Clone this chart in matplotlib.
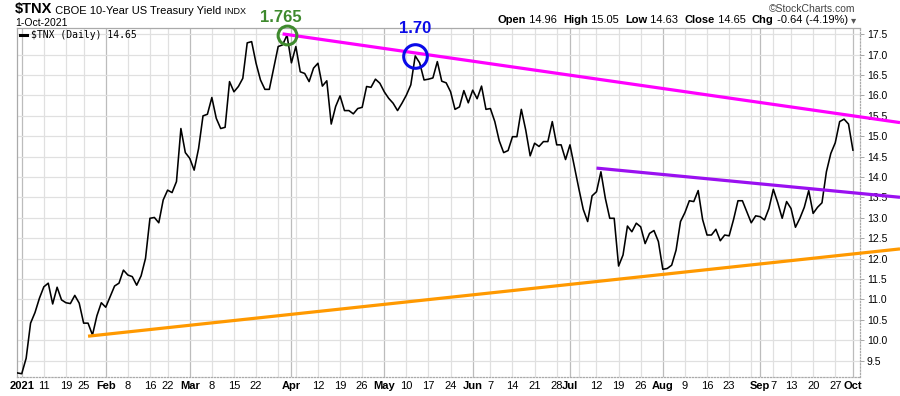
import matplotlib
matplotlib.use('Agg')
import matplotlib.pyplot as plt
import numpy as np
import pandas as pd

plt.rcParams['font.family'] = ['Liberation Sans', 'DejaVu Sans']

# dias de mercado (sin feriados) + ultimo cierre de 2020
feriados = ['2021-01-18', '2021-02-15', '2021-04-02', '2021-05-31', '2021-07-05', '2021-09-06']
dias = pd.bdate_range('2021-01-04', '2021-10-01')
dias = dias[~dias.isin(pd.to_datetime(feriados))]
fechas = pd.DatetimeIndex([pd.Timestamp('2020-12-31')]).append(dias)

# cierres $TNX (rendimiento x10)
tnx = [9.20, 9.18, 9.56, 10.42, 10.68, 11.03, 11.31, 11.40, 10.89, 11.30,
       10.99, 10.92, 10.90, 11.10, 10.91, 10.42, 10.42, 10.13, 10.60, 10.92,
       10.81, 11.07, 11.33, 11.40, 11.72, 11.60, 11.56, 11.35, 11.58, 12.01,
       12.99, 13.01, 12.88, 13.44, 13.68, 13.62, 13.89, 15.19, 14.60, 14.46,
       14.17, 14.70, 15.50, 15.54, 15.95, 15.44, 15.19, 15.22, 16.34, 16.09,
       16.22, 16.42, 17.29, 17.32, 16.79, 16.38, 16.15, 16.15, 16.67, 17.20,
       17.24, 17.48, 16.80, 17.20, 16.58, 16.54, 16.34, 16.67, 16.79, 16.23,
       16.36, 15.30, 15.73, 15.99, 15.63, 15.63, 15.55, 15.68, 15.71, 16.22,
       16.20, 16.40, 16.30, 16.09, 15.93, 15.81, 15.63, 15.81, 16.01, 16.26,
       16.97, 16.80, 16.38, 16.40, 16.43, 16.83, 16.35, 16.31, 16.09, 15.66,
       15.72, 16.12, 15.82, 16.13, 15.92, 16.23, 15.66, 15.68, 15.36, 14.89,
       14.60, 14.65, 14.99, 14.99, 15.66, 15.15, 14.52, 14.83, 14.75, 14.87,
       14.87, 15.36, 14.79, 14.79, 14.43, 14.79, 14.25, 13.72, 13.21, 12.91,
       13.54, 13.64, 14.13, 13.48, 12.99, 12.99, 11.82, 12.09, 12.80, 12.66,
       12.87, 12.78, 12.37, 12.62, 12.69, 12.42, 11.74, 11.76, 11.84, 12.21,
       12.91, 13.13, 13.42, 13.40, 13.67, 12.96, 12.58, 12.58, 12.72, 12.44,
       12.58, 12.56, 12.96, 13.42, 13.42, 13.15, 12.88, 13.05, 13.03, 12.95,
       13.23, 13.70, 13.37, 12.99, 13.40, 13.23, 12.77, 12.99, 13.26, 13.67,
       13.11, 13.26, 13.37, 14.13, 14.58, 14.84, 15.36, 15.42, 15.30, 14.66]

tick_fechas = ['2021-01-04', '2021-01-11', '2021-01-19', '2021-01-25', '2021-02-01',
               '2021-02-08', '2021-02-16', '2021-02-22', '2021-03-01', '2021-03-08',
               '2021-03-15', '2021-03-22', '2021-04-01', '2021-04-12', '2021-04-19',
               '2021-04-26', '2021-05-03', '2021-05-10', '2021-05-17', '2021-05-24',
               '2021-06-01', '2021-06-07', '2021-06-14', '2021-06-21', '2021-06-28',
               '2021-07-01', '2021-07-12', '2021-07-19', '2021-07-26', '2021-08-02',
               '2021-08-09', '2021-08-16', '2021-08-23', '2021-09-01', '2021-09-07',
               '2021-09-13', '2021-09-20', '2021-09-27', '2021-10-01']
tick_labels = ['2021', '11', '19', '25', 'Feb', '8', '16', '22', 'Mar', '8', '15', '22',
               'Apr', '12', '19', '26', 'May', '10', '17', '24', 'Jun', '7', '14', '21',
               '28', 'Jul', '12', '19', '26', 'Aug', '9', '16', '23', 'Sep', '7', '13',
               '20', '27', 'Oct']
y_ticks = np.arange(9.5, 17.51, 0.5)

# lineas de tendencia: (fecha inicio, valor inicio, cambio por dia)
magenta = ('2021-03-30', 17.51, -0.01557)
violeta = ('2021-07-12', 14.22, -0.01042)
naranja = ('2021-01-26', 10.10, 0.01165)

# marcas de los picos
pico1_fecha, pico1_txt = '2021-03-31', '1.765'
pico2_fecha, pico2_txt = '2021-05-12', '1.70'

x = np.arange(len(fechas))
W, H = 900, 396
fig = plt.figure(figsize=(W / 100, H / 100), dpi=100)
ax = fig.add_axes([17 / W, 1 - 377 / H, (860 - 17) / W, (377 - 28) / H])

x0, x1 = -0.07, 190.6
ax.set_xlim(x0, x1)
ax.set_ylim(9.10, 17.654)

# grilla: semanas claras, meses mas oscuros
semana = fechas.isocalendar().week.values
mes = fechas.month.values
for i in range(1, len(fechas)):
    if mes[i] != mes[i - 1]:
        ax.axvline(i, color='#bcbcbc', lw=0.9, zorder=0)
    elif semana[i] != semana[i - 1]:
        ax.axvline(i, color='#e0e0e0', lw=0.9, zorder=0)
for yv in y_ticks:
    ax.axhline(yv, color='#e0e0e0', lw=0.9, zorder=0)

ax.plot(x, tnx, color='black', lw=1.15, zorder=3)

# tendencias extendidas hasta el borde de la figura
x_fin = x1 + (x1 - x0) * (W - 860) / (860 - 17)
for (f, v, m), col in [(magenta, '#ff00ff'), (violeta, '#9a10f0'), (naranja, '#ff9900')]:
    i0 = fechas.get_loc(pd.Timestamp(f))
    ax.plot([i0, x_fin], [v, v + m * (x_fin - i0)], color=col, lw=2.3,
            solid_capstyle='butt', clip_on=False, zorder=4)

# circulos en los picos
for f, txt, col, ms, dx, dy in [(pico1_fecha, pico1_txt, '#3f8a2e', 13.5, -4.5, 13),
                                 (pico2_fecha, pico2_txt, '#0a0ae8', 17, 0, 20)]:
    i = fechas.get_loc(pd.Timestamp(f))
    ax.plot(i, tnx[i], 'o', mfc='none', mec=col, mew=2.2, ms=ms, zorder=5, clip_on=False)
    ax.annotate(txt, (i, tnx[i]), xytext=(dx, dy), textcoords='offset points',
                ha='center', va='center', color=col, fontsize=12, fontweight='bold',
                annotation_clip=False)

# ejes
pos = fechas.get_indexer(pd.to_datetime(tick_fechas))
ax.set_xticks(pos)
ax.set_xticklabels(tick_labels, fontsize=8)
for lab in ax.get_xticklabels():
    if not lab.get_text().isdigit() or lab.get_text() == '2021':
        lab.set_fontweight('bold')
ax.tick_params(axis='x', length=0, pad=3)
ax.yaxis.tick_right()
ax.set_yticks(y_ticks)
ax.set_yticklabels(['%.1f' % v for v in y_ticks], fontsize=7.5)
ax.tick_params(axis='y', length=3, width=0.6, color='#999999', pad=2)

for s in ['left', 'top']:
    ax.spines[s].set_color('#aaaaaa')
    ax.spines[s].set_linewidth(0.9)
for s in ['bottom', 'right']:
    ax.spines[s].set_color('#aaaaaa')
    ax.spines[s].set_linestyle((0, (1, 1.5)))
    ax.spines[s].set_linewidth(0.9)

# leyenda
fig.lines.append(plt.Line2D([20 / W, 27 / W], [1 - 35 / H, 1 - 35 / H], color='black',
                            lw=2.2, transform=fig.transFigure))
fig.text(31 / W, 1 - 35 / H, r'\$TNX (Daily) 14.65', fontsize=7,
         family='DejaVu Sans Mono', va='center', ha='left')

# encabezado izquierdo
t1 = fig.text(15 / W, 1 - 16 / H, r'\$TNX', fontsize=10.5, fontweight='bold', va='bottom')
t2 = ax.annotate(' CBOE 10-Year US Treasury Yield', xy=(1, 0), xycoords=t1,
                 fontsize=8, va='bottom', ha='left', annotation_clip=False)
ax.annotate(' INDX', xy=(1, 0), xycoords=t2, fontsize=6.5, va='bottom', ha='left',
            annotation_clip=False)
fig.text(15 / W, 1 - 26 / H, '1-Oct-2021', fontsize=7.5, va='baseline')

# encabezado derecho
fig.text(855 / W, 1 - 12 / H, '\u00a9StockCharts.com', fontsize=7.5, color='#444444',
         ha='right', va='baseline')
partes = [('\u25be', 'normal', '#555555'), (' -0.64 (-4.19%) ', 'normal', 'black'),
          ('Chg', 'bold', 'black'), (' 14.65  ', 'normal', 'black'),
          ('Close', 'bold', 'black'), (' 14.63  ', 'normal', 'black'),
          ('Low', 'bold', 'black'), (' 15.05  ', 'normal', 'black'),
          ('High', 'bold', 'black'), (' 14.96  ', 'normal', 'black'),
          ('Open', 'bold', 'black')]
prev = fig.text(856 / W, 1 - 25 / H, partes[0][0], fontsize=7.5, fontweight=partes[0][1],
                color=partes[0][2], ha='right', va='bottom', family=['DejaVu Sans'])
for txt, peso, col in partes[1:]:
    prev = ax.annotate(txt, xy=(0, 0), xycoords=prev, fontsize=8, fontweight=peso,
                       color=col, ha='right', va='bottom', annotation_clip=False)

fig.savefig('out.png', dpi=100, facecolor='white')
